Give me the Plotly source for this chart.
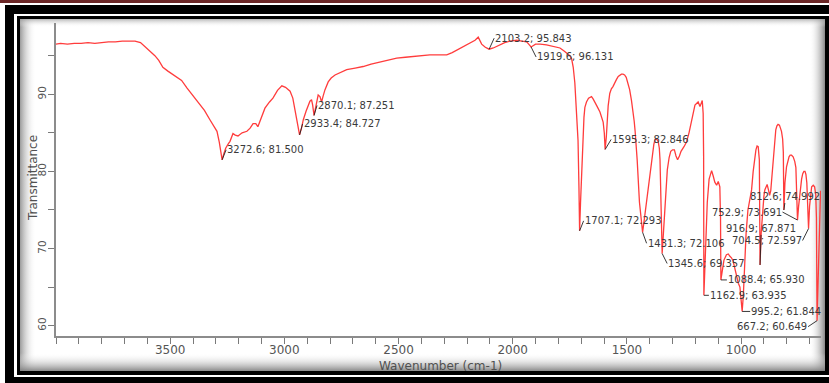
import base64
import plotly.graph_objects as go

# FTIR transmittance spectrum (wavenumber in cm-1, transmittance in %)
wavenumber = [
    4000, 3980, 3950, 3920, 3890, 3860, 3830, 3800, 3770, 3740, 3710, 3680, 3654, 3630, 3619,
    3600, 3567, 3550, 3532, 3510, 3479, 3450, 3426, 3400, 3370, 3350, 3326, 3310, 3295, 3285,
    3272.6, 3265, 3257, 3245, 3238, 3225, 3215, 3203, 3185, 3164, 3150, 3137, 3125, 3116, 3100,
    3085, 3065, 3050, 3030, 3011, 2995, 2975, 2963, 2953, 2945, 2939, 2933.4, 2925, 2917, 2905,
    2895, 2888, 2881, 2876, 2870.1, 2862, 2852, 2844, 2837, 2830, 2822, 2808, 2795, 2778, 2750,
    2727, 2690, 2655, 2620, 2581, 2545, 2508, 2470, 2436, 2400, 2363, 2330, 2289, 2265, 2246,
    2215, 2187, 2165, 2151, 2145, 2136, 2120, 2103.2, 2085, 2070, 2056, 2035, 2012, 1995, 1983,
    1960, 1939, 1930, 1919.6, 1900, 1880, 1852, 1820, 1793, 1775, 1764, 1750, 1742, 1735, 1728,
    1720, 1714, 1710, 1707.1, 1703, 1698, 1694, 1688, 1684, 1677, 1668, 1662, 1655, 1648, 1640,
    1630, 1618, 1610, 1604, 1599, 1595.3, 1590, 1585, 1582, 1575, 1568, 1561, 1552, 1546, 1538,
    1531, 1524, 1517, 1510, 1503, 1495, 1488, 1480, 1474, 1468, 1464, 1455, 1445, 1431.3, 1425,
    1417, 1410, 1402, 1395, 1388, 1382, 1377, 1370, 1363, 1358, 1355, 1350, 1345.6, 1340, 1333,
    1328, 1323, 1315, 1308, 1300, 1292, 1285, 1278, 1270, 1263, 1250, 1239, 1228, 1217, 1210,
    1202, 1195, 1188, 1180, 1174, 1170, 1166, 1164, 1162.9, 1155, 1148, 1140, 1133, 1129, 1122,
    1115, 1107, 1100, 1093, 1090, 1088.4, 1082, 1075, 1064, 1056, 1049, 1042, 1035, 1027, 1020,
    1012, 1005, 1000, 995.2, 990, 985, 978, 970, 962, 954, 947, 940, 935, 930, 925,
    920, 918, 916.9, 912, 905, 900, 896, 890, 886, 880, 875, 870, 865, 859, 853,
    848, 843, 838, 832, 828, 823, 818, 815, 812.6, 808, 801, 795, 790, 785, 779,
    772, 765, 760, 757, 754, 752.9, 748, 742, 735, 730, 725, 720, 716, 712, 708,
    704.5, 700, 695, 691, 684, 678, 673, 670, 667.2, 662, 657, 652,
]
transmittance = [
    96.5, 96.6, 96.5, 96.6, 96.6, 96.7, 96.6, 96.7, 96.8, 96.8, 96.9, 96.9, 96.9, 96.7, 96.4,
    96.0, 95.0, 94.4, 93.5, 93.0, 92.4, 91.8, 90.8, 89.8, 88.6, 87.9, 86.7, 86.0, 85.2, 83.8,
    81.5, 82.3, 83.0, 83.6, 83.9, 84.9, 84.7, 84.6, 85.0, 85.2, 85.6, 86.2, 86.2, 85.8, 87.0,
    88.2, 89.0, 89.5, 90.5, 91.1, 90.9, 90.4, 89.5, 88.0, 86.5, 85.6, 84.727, 85.6, 86.7, 87.8,
    88.6, 89.1, 89.3, 88.6, 87.251, 88.5, 89.9, 89.7, 89.0, 89.8, 90.6, 91.6, 92.1, 92.5, 92.9,
    93.2, 93.4, 93.6, 93.9, 94.2, 94.5, 94.7, 94.8, 94.9, 95.0, 95.1, 95.1, 95.1, 95.4, 95.7,
    96.1, 96.6, 97.0, 97.4, 97.0, 96.5, 96.1, 95.843, 96.0, 96.2, 96.4, 96.7, 96.9, 97.0, 97.0,
    96.9, 96.8, 96.5, 96.131, 96.5, 96.5, 96.4, 96.2, 96.0, 95.6, 95.3, 95.0, 94.6, 93.5, 91.5,
    88.0, 84.0, 78.0, 72.293, 76.0, 80.0, 84.0, 87.0, 88.3, 89.0, 89.5, 89.6, 89.7, 89.4, 89.0,
    88.4, 87.7, 87.0, 86.4, 85.0, 82.846, 84.5, 87.0, 88.5, 90.1, 90.7, 91.0, 91.7, 91.9, 92.3,
    92.5, 92.6, 92.6, 92.5, 92.2, 91.5, 90.6, 89.2, 88.0, 86.5, 85.2, 81.5, 76.0, 72.106, 73.5,
    75.4, 77.5, 79.3, 81.0, 82.3, 83.5, 84.1, 84.2, 83.9, 83.0, 81.5, 76.0, 69.357, 72.0, 75.0,
    78.0, 80.2, 81.8, 82.6, 82.8, 82.8, 82.0, 81.5, 82.0, 82.6, 83.2, 83.8, 85.0, 86.7, 87.8,
    88.6, 88.8, 89.0, 88.4, 88.9, 89.2, 87.5, 82.0, 63.935, 70.0, 76.0, 79.0, 80.0, 80.1, 79.4,
    78.6, 78.2, 78.7, 78.0, 74.0, 65.930, 67.5, 68.5, 69.2, 69.3, 69.0, 68.8, 68.4, 67.3, 66.3,
    65.5, 65.0, 63.5, 61.844, 64.0, 68.0, 72.0, 75.0, 76.5, 77.6, 80.0, 81.9, 82.8, 83.3, 83.2,
    81.5, 77.0, 67.871, 72.0, 75.5, 76.8, 77.6, 78.2, 78.3, 77.6, 76.9, 77.5, 79.3, 81.9, 83.8,
    85.4, 85.9, 86.1, 86.0, 85.6, 85.2, 84.2, 82.5, 74.992, 78.5, 80.6, 81.4, 81.9, 82.1, 82.1,
    81.9, 81.3, 80.5, 78.5, 76.0, 73.691, 75.5, 77.5, 79.0, 79.7, 80.0, 80.0, 79.6, 78.5, 76.0,
    72.597, 75.5, 77.5, 78.0, 78.2, 78.0, 77.0, 74.0, 60.649, 66.0, 73.0, 77.5,
]

# Labelled band positions
peak_wn = [3272.6, 2933.4, 2870.1, 2103.2, 1919.6, 1707.1, 1595.3, 1431.3, 1345.6,
           1162.9, 1088.4, 995.2, 916.9, 812.6, 752.9, 704.5, 667.2]
peak_t = [81.500, 84.727, 87.251, 95.843, 96.131, 72.293, 82.846, 72.106, 69.357,
          63.935, 65.930, 61.844, 67.871, 74.992, 73.691, 72.597, 60.649]
# leader offsets (px) and text anchoring for each band label
label_dx = [4, 3, 3, 5, 5, 4, 6, 4, 5, 5, 6, 8, 1, 1, -15, -6, -9]
label_dy = [-10, -11, -10, -11, 10, -10, -10, 11, 10, 0, 0, 0, -30, -7, -8, 12, 6]
label_xanchor = ["left"] * 12 + ["center", "center", "right", "right", "right"]
label_yanchor = ["middle"] * 12 + ["bottom", "bottom", "middle", "middle", "middle"]

x_ticks = [3500, 3000, 2500, 2000, 1500, 1000]
y_ticks = [60, 70, 80, 90]

W, H = 829, 383
ML, MR, MT, MB = 56, 8, 23, 47
PW, PH = W - ML - MR, H - MT - MB

FONT = "DejaVu Sans"

# Framed, shaded backdrop for the figure
frame_svg = f"""<svg xmlns="http://www.w3.org/2000/svg" width="{W}" height="{H}" viewBox="0 0 {W} {H}">
<defs>
<linearGradient id="gl" x1="0" x2="1" y1="0" y2="0">
<stop offset="0" stop-color="#8a8a8a" stop-opacity="0.85"/><stop offset="1" stop-color="#ffffff" stop-opacity="0"/></linearGradient>
<linearGradient id="gr" x1="1" x2="0" y1="0" y2="0">
<stop offset="0" stop-color="#7c7c7c" stop-opacity="0.9"/><stop offset="1" stop-color="#ffffff" stop-opacity="0"/></linearGradient>
<linearGradient id="gt" x1="0" x2="0" y1="0" y2="1">
<stop offset="0" stop-color="#9a9a9a" stop-opacity="0.7"/><stop offset="1" stop-color="#ffffff" stop-opacity="0"/></linearGradient>
<linearGradient id="gb" x1="0" x2="0" y1="1" y2="0">
<stop offset="0" stop-color="#7c7c7c" stop-opacity="0.9"/><stop offset="1" stop-color="#ffffff" stop-opacity="0"/></linearGradient>
</defs>
<rect x="0" y="0" width="{W}" height="{H}" fill="#ffffff"/>
<rect x="0" y="0" width="{W}" height="3" fill="#6b2626"/>
<rect x="5" y="5" width="{W - 5}" height="{H - 5}" fill="#000000"/>
<rect x="14" y="14" width="{W - 14}" height="363" fill="#ffffff"/>
<rect x="17" y="16" width="{W - 17}" height="359" fill="#000000"/>
<rect x="20" y="19" width="805" height="352" fill="#ffffff"/>
<rect x="20" y="19" width="16" height="352" fill="url(#gl)"/>
<rect x="809" y="19" width="16" height="352" fill="url(#gr)"/>
<rect x="20" y="19" width="805" height="8" fill="url(#gt)"/>
<rect x="20" y="353" width="805" height="18" fill="url(#gb)"/>
</svg>"""
frame_uri = "data:image/svg+xml;base64," + base64.b64encode(frame_svg.encode()).decode()

fig = go.Figure()
fig.add_trace(go.Scatter(
    x=wavenumber, y=transmittance, mode="lines",
    line=dict(color="rgb(255,60,60)", width=1.3),
    hoverinfo="x+y", showlegend=False,
))

for wn, t, dx, dy, xa, ya in zip(peak_wn, peak_t, label_dx, label_dy, label_xanchor, label_yanchor):
    fig.add_annotation(
        x=wn, y=t, xref="x", yref="y",
        text=f"{wn:.1f}; {t:.3f}",
        showarrow=True, arrowhead=0, arrowwidth=0.9, arrowcolor="#222222",
        standoff=0, ax=dx, ay=dy, xanchor=xa, yanchor=ya,
        borderpad=0,
        font=dict(family=FONT, size=10, color="#3a3a3a"),
    )

# Axis titles
fig.add_annotation(
    text="Wavenumber (cm-1)", xref="paper", yref="paper",
    x=(440 - ML) / PW, y=(MT + PH - 366) / PH,
    showarrow=False, xanchor="center", yanchor="middle",
    font=dict(family=FONT, size=12, color="#505050"),
)
fig.add_annotation(
    text="Transmittance", xref="paper", yref="paper",
    x=(33 - ML) / PW, y=(MT + PH - 178) / PH, textangle=-90,
    showarrow=False, xanchor="center", yanchor="middle",
    font=dict(family=FONT, size=12, color="#505050"),
)

axis_common = dict(
    showgrid=False, zeroline=False, showline=True,
    linecolor="#8c8c8c", linewidth=1.5,
    ticks="outside", ticklen=6, tickwidth=1.3, tickcolor="#7a7a7a",
)
fig.update_xaxes(
    range=[4000, 650], tickmode="array", tickvals=x_ticks,
    ticktext=[str(v) for v in x_ticks], ticklabelstandoff=-4,
    tickfont=dict(family=FONT, size=12, color="#555555"),
    minor=dict(dtick=100, tick0=0, ticks="outside", ticklen=6, tickwidth=1.3,
               tickcolor="#7a7a7a", showgrid=False),
    **axis_common,
)
fig.update_yaxes(
    range=[58.66, 99.24], tickmode="array", tickvals=y_ticks,
    ticktext=[str(v) for v in y_ticks], tickangle=-90, ticklabelstandoff=-2,
    tickfont=dict(family=FONT, size=10.5, color="#555555"),
    minor=dict(dtick=5, tick0=0, ticks="outside", ticklen=6, tickwidth=1.3,
               tickcolor="#7a7a7a", showgrid=False),
    **axis_common,
)

fig.update_layout(
    width=W, height=H,
    margin=dict(l=ML, r=MR, t=MT, b=MB, pad=0),
    paper_bgcolor="white", plot_bgcolor="rgba(0,0,0,0)",
    images=[dict(
        source=frame_uri, xref="paper", yref="paper",
        x=-ML / PW, y=1 + MT / PH, sizex=W / PW, sizey=H / PH,
        xanchor="left", yanchor="top", sizing="stretch", layer="below",
    )],
)

fig.write_html("out.html")
